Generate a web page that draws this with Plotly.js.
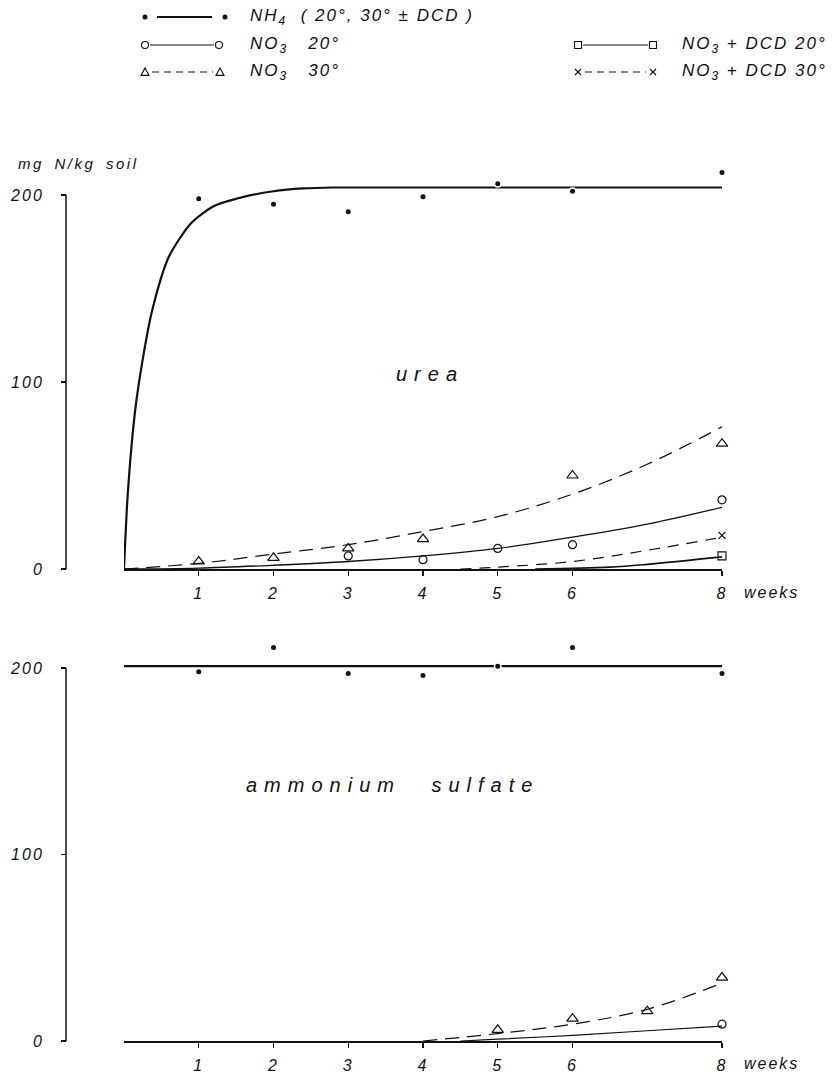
<!DOCTYPE html>
<html>
<head>
<meta charset="utf-8">
<script src="https://cdn.plot.ly/plotly-3.0.1.min.js"></script>
<style>
  html, body { margin: 0; padding: 0; background: #fff; }
  #chart { width: 834px; height: 1075px; }
  svg text { letter-spacing: 2px; }
</style>
</head>
<body>
<div id="chart"></div>
<script>
// ---------------- data ----------------
const weeks = [1, 2, 3, 4, 5, 6, 8];
const weekTickText = ["1", "2", "3", "4", "5", "6", "8"];
const yTicks = [0, 100, 200];

// urea panel
const ureaNH4 = [198, 195, 191, 199, 206, 202, 212];
const ureaNH4CurveWeeks = [0, 0.05, 0.15, 0.25, 0.375, 0.6, 0.9, 1.2, 1.6, 2.0, 2.4, 2.8, 8];
const ureaNH4CurveVals  = [0, 40, 85, 112, 138, 167, 185, 194, 199, 202, 203.5, 204, 204];

const ureaNO3_20Weeks = [3, 4, 5, 6, 8];
const ureaNO3_20 = [7, 5, 11, 13, 37];
const ureaNO3_30Weeks = [1, 2, 3, 4, 6, 8];
const ureaNO3_30 = [4, 6, 11, 16, 50, 67];
const ureaDCD20Weeks = [8];
const ureaDCD20 = [7];
const ureaDCD30Weeks = [8];
const ureaDCD30 = [18];

const curveWeeks = [0, 1, 2, 3, 4, 5, 6, 7, 8];
const ureaNO3_20Curve = [0, 0.5, 2, 4, 7, 11, 17, 24, 33];
const ureaNO3_30Curve = [0, 3, 8, 13, 20, 28, 40, 56, 76];
const ureaDCD30CurveWeeks = [4.5, 5, 6, 7, 8];
const ureaDCD30Curve = [0, 1, 4, 10, 17];
const ureaDCD20CurveWeeks = [5.5, 6.5, 7, 8];
const ureaDCD20Curve = [0, 1, 2.5, 6.5];

// ammonium sulfate panel
const asNH4 = [198, 211, 197, 196, 201, 211, 197];
const asNH4LineWeeks = [0, 8];
const asNH4Line = [201, 201];
const asNO3_30Weeks = [5, 6, 7, 8];
const asNO3_30 = [6, 12, 16, 34];
const asNO3_30CurveWeeks = [4, 5, 6, 7, 8];
const asNO3_30Curve = [0, 4, 9, 17, 31];
const asNO3_20Weeks = [8];
const asNO3_20 = [9];
const asNO3_20CurveWeeks = [4.5, 5, 6, 7, 8];
const asNO3_20Curve = [0, 1, 3, 5.5, 8];

// ---------------- layout helpers ----------------
const W = 834, H = 1075;
const px = x => x / W;
const py = y => 1 - y / H;
const FONT = "Liberation Sans, Arial, sans-serif";
const f = (size) => ({ family: FONT, size: size, color: "#111", style: "italic" });

function lineTrace(x, y, xa, ya, width, dash, smooth) {
  return { x: x, y: y, xaxis: xa, yaxis: ya, mode: "lines", type: "scatter",
    line: { color: "#111", width: width, dash: dash || "solid", shape: smooth ? "spline" : "linear", smoothing: smooth || 1 },
    hoverinfo: "skip", showlegend: false };
}
function markTrace(x, y, xa, ya, symbol, size, lw) {
  return { x: x, y: y, xaxis: xa, yaxis: ya, mode: "markers", type: "scatter", cliponaxis: false,
    marker: { symbol: symbol, size: size, color: "#111", line: { color: "#111", width: lw } },
    hoverinfo: "skip", showlegend: false };
}
function dotTrace(x, y, xa, ya) {
  return { x: x, y: y, xaxis: xa, yaxis: ya, mode: "markers", type: "scatter", cliponaxis: false,
    marker: { symbol: "circle", size: 6.5, color: "#111", line: { color: "#fff", width: 1.5 } },
    hoverinfo: "skip", showlegend: false };
}

const DASH = "14px,8px";
const traces = [
  // urea
  lineTrace(ureaNH4CurveWeeks, ureaNH4CurveVals, "x", "y", 2.2, null, 0.7),
  lineTrace(curveWeeks, ureaNO3_20Curve, "x", "y", 1.3, null, 1),
  lineTrace(curveWeeks, ureaNO3_30Curve, "x", "y", 1.2, DASH, 1),
  lineTrace(ureaDCD30CurveWeeks, ureaDCD30Curve, "x", "y", 1.2, "11px,8px", 1),
  lineTrace(ureaDCD20CurveWeeks, ureaDCD20Curve, "x", "y", 1.6, null, 1),
  dotTrace(weeks, ureaNH4, "x", "y"),
  markTrace(ureaNO3_20Weeks, ureaNO3_20, "x", "y", "circle-open", 8, 1.2),
  markTrace(ureaNO3_30Weeks, ureaNO3_30, "x", "y", "triangle-up-open", 10, 1.2),
  markTrace(ureaDCD20Weeks, ureaDCD20, "x", "y", "square-open", 8, 1.2),
  markTrace(ureaDCD30Weeks, ureaDCD30, "x", "y", "x-thin-open", 7, 1.3),
  // ammonium sulfate
  lineTrace(asNH4LineWeeks, asNH4Line, "x2", "y2", 2.4),
  lineTrace(asNO3_20CurveWeeks, asNO3_20Curve, "x2", "y2", 1.2, null, 1),
  lineTrace(asNO3_30CurveWeeks, asNO3_30Curve, "x2", "y2", 1.2, DASH, 1),
  dotTrace(weeks, asNH4, "x2", "y2"),
  markTrace(asNO3_30Weeks, asNO3_30, "x2", "y2", "triangle-up-open", 10, 1.2),
  markTrace(asNO3_20Weeks, asNO3_20, "x2", "y2", "circle-open", 8, 1.2)
];

function xaxisDef(anchor) {
  return { domain: [px(124), px(722)], range: [0, 8], anchor: anchor,
    showline: true, linecolor: "#111", linewidth: 1.5, showgrid: false, zeroline: false,
    ticks: "outside", ticklen: 5, tickwidth: 1.2, tickcolor: "#111",
    tickmode: "array", tickvals: weeks, ticktext: weekTickText, tickfont: f(16), ticklabelstandoff: 4, fixedrange: true };
}
function yaxisDef(bottomPx, topPx) {
  return { domain: [py(bottomPx), py(topPx)], range: [0, 215], anchor: "free", position: px(66),
    showline: false, showgrid: false, zeroline: false,
    ticks: "outside", ticklen: 5, tickwidth: 1.2, tickcolor: "#111",
    tickmode: "array", tickvals: yTicks, ticktext: yTicks.map(String), tickfont: f(16), ticklabelstandoff: 14, fixedrange: true };
}

const shapes = [
  { type: "line", xref: "paper", yref: "y", x0: px(66), x1: px(66), y0: 0, y1: 200, line: { color: "#111", width: 1.5 } },
  { type: "line", xref: "paper", yref: "y2", x0: px(66), x1: px(66), y0: 0, y1: 200, line: { color: "#111", width: 1.5 } }
];
const annotations = [];

function pline(x0, x1, y, width, dash) {
  shapes.push({ type: "line", xref: "paper", yref: "paper", x0: px(x0), x1: px(x1), y0: py(y), y1: py(y),
    line: { color: "#111", width: width, dash: dash || "solid" } });
}
function pcircle(cx, cy, r, filled) {
  shapes.push({ type: "circle", xref: "paper", yref: "paper", x0: px(cx - r), x1: px(cx + r), y0: py(cy + r), y1: py(cy - r),
    line: { color: "#111", width: filled ? 0 : 1.1 }, fillcolor: filled ? "#111" : "rgba(0,0,0,0)" });
}
function psquare(cx, cy, r) {
  shapes.push({ type: "rect", xref: "paper", yref: "paper", x0: px(cx - r), x1: px(cx + r), y0: py(cy + r), y1: py(cy - r),
    line: { color: "#111", width: 1.1 }, fillcolor: "rgba(0,0,0,0)" });
}
function ptri(cx, cy, r) {
  const p = (x, y) => px(x) + "," + py(y);
  shapes.push({ type: "path", xref: "paper", yref: "paper",
    path: "M" + p(cx - r, cy + r * 0.85) + " L" + p(cx + r, cy + r * 0.85) + " L" + p(cx, cy - r) + " Z",
    line: { color: "#111", width: 1.1 }, fillcolor: "rgba(0,0,0,0)" });
}
function pcross(cx, cy, r) {
  shapes.push({ type: "line", xref: "paper", yref: "paper", x0: px(cx - r), x1: px(cx + r), y0: py(cy - r), y1: py(cy + r), line: { color: "#111", width: 1.1 } });
  shapes.push({ type: "line", xref: "paper", yref: "paper", x0: px(cx - r), x1: px(cx + r), y0: py(cy + r), y1: py(cy - r), line: { color: "#111", width: 1.1 } });
}
function ptext(text, x, y, size, anchor) {
  annotations.push({ text: text, xref: "paper", yref: "paper", x: px(x), y: py(y), xanchor: anchor || "left", yanchor: "middle",
    showarrow: false, font: f(size) });
}

// legend row 1
pcircle(145, 17, 2.5, true); pline(157, 212, 17, 1.8); pcircle(225, 17, 2.5, true);
ptext("NH<sub>4</sub>\u00a0 ( 20°, 30° ± DCD )", 248, 17, 17);
// row 2
pcircle(145, 45, 3.5, false); pline(150, 214, 45, 1.1); pcircle(219, 45, 3.5, false);
ptext("NO<sub>3</sub>\u00a0\u00a0 20°", 248, 45, 17);
psquare(578, 45, 3.5); pline(583, 648, 45, 1.1); psquare(653, 45, 3.5);
ptext("NO<sub>3</sub> + DCD 20°", 680, 45, 17);
// row 3
ptri(145, 72, 4); pline(152, 213, 72, 1.1, "7px,5px"); ptri(220, 72, 4);
ptext("NO<sub>3</sub>\u00a0\u00a0 30°", 248, 72, 17);
pcross(578, 72, 3); pline(585, 646, 72, 1.1, "7px,5px"); pcross(653, 72, 3);
ptext("NO<sub>3</sub> + DCD 30°", 680, 72, 17);

// axis titles and panel labels
ptext("mg N/kg soil", 18, 163, 15);
ptext("weeks", 742, 592, 16);
ptext("weeks", 742, 1063, 16);
ptext("urea", 396, 374, 20);
ptext("ammonium sulfate", 246, 785, 20);

const layout = {
  width: W, height: H, margin: { l: 0, r: 0, t: 0, b: 0 },
  paper_bgcolor: "#fff", plot_bgcolor: "rgba(0,0,0,0)",
  showlegend: false, font: f(16),
  xaxis: xaxisDef("y"), yaxis: yaxisDef(569, 569 - 215 * 1.87),
  xaxis2: xaxisDef("y2"), yaxis2: yaxisDef(1041, 1041 - 215 * 1.865),
  shapes: shapes, annotations: annotations
};

const special = {
  "urea": { ls: "7px", ws: "0px", left: 396 },
  "ammonium sulfate": { ls: "7px", ws: "18px", left: 246 },
  "mg N/kg soil": { ls: "2.5px", ws: "4px", left: 18 }
};

Plotly.newPlot("chart", traces, layout, { staticPlot: true, displayModeBar: false }).then(() => {
  document.querySelectorAll("text.annotation-text").forEach(t => {
    const sp = special[t.textContent];
    if (!sp) return;
    t.style.letterSpacing = sp.ls;
    t.style.wordSpacing = sp.ws;
    const r = t.getBoundingClientRect();
    const dx = sp.left - r.left;
    t.setAttribute("x", (parseFloat(t.getAttribute("x") || "0") + dx).toString());
  });
});
</script>
</body>
</html>
